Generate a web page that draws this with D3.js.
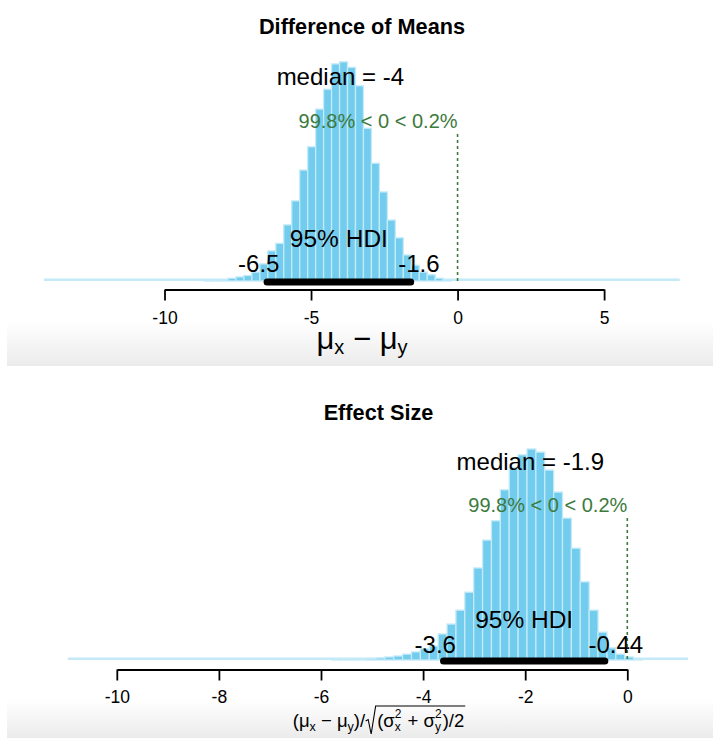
<!DOCTYPE html>
<html>
<head>
<meta charset="utf-8">
<script src="https://cdn.jsdelivr.net/npm/d3@7"></script>
<style>
body { margin: 0; background: #fff; }
svg { display: block; font-family: "Liberation Sans", Arial, sans-serif; }
</style>
</head>
<body>
<div id="chart"></div>
<script>
// difference of means posterior (density per bin)
let diffBinStart = -8.651;
let diffBinWidth = 0.272;
let diffDensity = [0.0015, 0.0015, 0.002, 0.004, 0.006, 0.008, 0.013, 0.025, 0.044, 0.055,
                   0.082, 0.117, 0.162, 0.196, 0.251, 0.280, 0.317, 0.320, 0.312, 0.285,
                   0.223, 0.172, 0.130, 0.089, 0.063, 0.038, 0.023, 0.013, 0.009, 0.004, 0.002];
let diffRange = [-14.11, 7.58];
let diffHDI = [-6.5, -1.6];
let diffMedian = -4;
let diffTicks = [-10, -5, 0, 5];

// effect size posterior
let effBinStart = -5.793;
let effBinWidth = 0.174;
let effDensity = [0.0018, 0.0022, 0.0022, 0.0027, 0.0033, 0.0045, 0.0067, 0.0089, 0.013, 0.018,
                  0.025, 0.031, 0.058, 0.080, 0.111, 0.151, 0.205, 0.267, 0.310, 0.379,
                  0.428, 0.457, 0.470, 0.463, 0.423, 0.374, 0.316, 0.249, 0.174, 0.111,
                  0.062, 0.027, 0.013, 0.0067, 0.0022];
let effRange = [-10.96, 1.19];
let effHDI = [-3.6, -0.44];
let effMedian = -1.9;
let effTicks = [-10, -8, -6, -4, -2, 0];

let compVal = 0;
let compLabel = '99.8% < 0 < 0.2%';
let hdiLabel = '95% HDI';

let barFill = '#72ccee';
let barEdge = '#c4eaf8';
let green = '#3d7a3d';

let svg = d3.select('#chart').append('svg')
    .attr('width', 713)
    .attr('height', 738);

let grad = svg.append('defs').append('linearGradient')
    .attr('id', 'shade')
    .attr('x1', 0).attr('x2', 0).attr('y1', 0).attr('y2', 1);
grad.append('stop').attr('offset', '0%').attr('stop-color', '#ffffff');
grad.append('stop').attr('offset', '100%').attr('stop-color', '#ebebeb');

function drawPanel(p){
    let x = d3.scaleLinear().domain(p.xDomain).range(p.xRange);
    let y = d3.scaleLinear().domain(p.yDomain).range([p.base, p.yTop]);
    let g = svg.append('g');

    g.append('rect')
        .attr('x', 7).attr('width', 706)
        .attr('y', p.gradY0).attr('height', p.gradY1 - p.gradY0)
        .attr('fill', 'url(#shade)');

    g.append('text')
        .attr('x', p.titleX).attr('y', p.titleY)
        .attr('text-anchor', 'middle')
        .attr('font-weight', 'bold')
        .attr('font-size', 21.7)
        .text(p.title);

    // near-zero tails of the histogram show up as a thin line
    g.append('rect')
        .attr('x', x(p.range[0]))
        .attr('width', x(p.range[1]) - x(p.range[0]))
        .attr('y', p.base - 2.5)
        .attr('height', 2.5)
        .attr('fill', barEdge);

    let bins = p.density.map((d, i) => ({
        x0: p.binStart + i * p.binWidth,
        x1: p.binStart + (i + 1) * p.binWidth,
        d: d
    }));

    g.selectAll('rect.bar')
        .data(bins)
        .join('rect')
        .attr('class', 'bar')
        .attr('x', d => x(d.x0))
        .attr('width', d => x(d.x1) - x(d.x0))
        .attr('y', d => y(d.d))
        .attr('height', d => p.base - y(d.d))
        .attr('fill', barFill)
        .attr('stroke', barEdge)
        .attr('stroke-width', 1.3);

    g.append('line')
        .attr('x1', x(compVal)).attr('x2', x(compVal))
        .attr('y1', p.compTop).attr('y2', p.base)
        .attr('stroke', green)
        .attr('stroke-width', 1.6)
        .attr('stroke-dasharray', '3,3');

    g.append('text')
        .attr('x', x(compVal)).attr('y', p.compY)
        .attr('text-anchor', 'end')
        .attr('fill', green)
        .attr('font-size', 20)
        .text(compLabel);

    g.append('text')
        .attr('x', x(p.median)).attr('y', p.medianY)
        .attr('text-anchor', 'middle')
        .attr('font-size', 24)
        .text('median = ' + p.median);

    g.append('line')
        .attr('x1', x(p.hdi[0])).attr('x2', x(p.hdi[1]))
        .attr('y1', p.base + 1).attr('y2', p.base + 1)
        .attr('stroke', '#000')
        .attr('stroke-width', 7)
        .attr('stroke-linecap', 'round');

    g.append('text')
        .attr('x', x((p.hdi[0] + p.hdi[1]) / 2)).attr('y', p.hdiTextY)
        .attr('text-anchor', 'middle')
        .attr('font-size', 24.5)
        .text(hdiLabel);

    // hdi end values sit 70% / 30% left of their point, like R's adj
    [[p.hdi[0], 0.7], [p.hdi[1], 0.3]].forEach(function(h){
        let t = g.append('text')
            .attr('y', p.hdiValY)
            .attr('font-size', 24)
            .text(String(h[0]));
        let w = t.node().getComputedTextLength();
        t.attr('x', x(h[0]) - h[1] * w);
    });

    let fs = 17.5;
    let axis = d3.axisBottom(x)
        .tickValues(p.ticks)
        .tickSize(11)
        .tickSizeOuter(0)
        .tickPadding(p.tickBase - p.axisY - 11 - 0.71 * fs)
        .tickFormat(d => String(d));

    let ax = g.append('g')
        .attr('transform', 'translate(0,' + p.axisY + ')')
        .call(axis);
    ax.attr('font-family', null).attr('font-size', null);
    ax.selectAll('path, line').attr('stroke', '#000').attr('stroke-width', 1.8);
    ax.selectAll('text').attr('font-size', fs).attr('fill', '#000');

    return g;
}

// lays out math pieces left to right, returns group + width
function mathRow(g, items, baseline){
    let row = g.append('g');
    let cx = 0;
    let marks = {};
    items.forEach(function(it){
        if (it.mark){ marks[it.mark] = cx; cx += it.gap || 0; return; }
        if (it.stack){
            let a = row.append('text').attr('x', cx).attr('y', baseline - it.up)
                .attr('font-size', it.size).text(it.stack[0]);
            let b = row.append('text').attr('x', cx).attr('y', baseline + it.down)
                .attr('font-size', it.size).text(it.stack[1]);
            cx += Math.max(a.node().getComputedTextLength(), b.node().getComputedTextLength()) + 1;
            return;
        }
        let t = row.append('text')
            .attr('x', cx)
            .attr('y', baseline + (it.dy || 0))
            .attr('font-size', it.size)
            .style('white-space', 'pre')
            .text(it.t);
        cx += t.node().getComputedTextLength();
    });
    return {row: row, width: cx, marks: marks};
}

let topPanel = drawPanel({
    title: 'Difference of Means', titleX: 362, titleY: 34,
    xDomain: [-10, 5], xRange: [164.5, 604.1],
    yDomain: [0, 0.33], base: 281, yTop: 55,
    binStart: diffBinStart, binWidth: diffBinWidth, density: diffDensity,
    range: diffRange, hdi: diffHDI, median: diffMedian, ticks: diffTicks,
    axisY: 289.5, tickBase: 324,
    medianY: 85, compY: 128, compTop: 134,
    hdiTextY: 246.5, hdiValY: 271.5,
    gradY0: 322, gradY1: 366
});

let bottomPanel = drawPanel({
    title: 'Effect Size', titleX: 378.5, titleY: 420,
    xDomain: [-10, 0], xRange: [116.8, 627.3],
    yDomain: [0, 0.5], base: 660, yTop: 435.5,
    binStart: effBinStart, binWidth: effBinWidth, density: effDensity,
    range: effRange, hdi: effHDI, median: effMedian, ticks: effTicks,
    axisY: 669.5, tickBase: 703,
    medianY: 470, compY: 512, compTop: 518,
    hdiTextY: 628, hdiValY: 653,
    gradY0: 700, gradY1: 738
});

// axis title, top panel
let lab1 = mathRow(topPanel, [
    {t: 'μ', size: 31},
    {t: 'x', size: 20, dy: 5},
    {t: ' − ', size: 31},
    {t: 'μ', size: 31},
    {t: 'y', size: 20, dy: 5}
], 349);
lab1.row.attr('transform', 'translate(' + (362 - lab1.width / 2) + ',0)');

// axis title, bottom panel
let lab2 = mathRow(bottomPanel, [
    {t: '(μ', size: 18.5},
    {t: 'x', size: 12.5, dy: 3.5},
    {t: ' − μ', size: 18.5},
    {t: 'y', size: 12.5, dy: 3.5},
    {t: ')/', size: 18.5},
    {mark: 'rad', gap: 12},
    {t: '(σ', size: 18.5},
    {stack: ['2', 'x'], size: 12, up: 9, down: 3.5},
    {t: ' + σ', size: 18.5},
    {stack: ['2', 'y'], size: 12, up: 9, down: 3.5},
    {t: ')/2', size: 18.5},
    {mark: 'end'}
], 727);
let lx = 378.5 - lab2.width / 2;
lab2.row.attr('transform', 'translate(' + lx + ',0)');
let rs = lab2.marks.rad, re = lab2.marks.end;
lab2.row.append('path')
    .attr('d', 'M' + (rs + 0.5) + ',721 L' + (rs + 3) + ',719.5 L' + (rs + 6) + ',734 L' + (rs + 10.5) + ',706 L' + (re + 1) + ',706')
    .attr('fill', 'none')
    .attr('stroke', '#000')
    .attr('stroke-width', 1.1);
</script>
</body>
</html>
